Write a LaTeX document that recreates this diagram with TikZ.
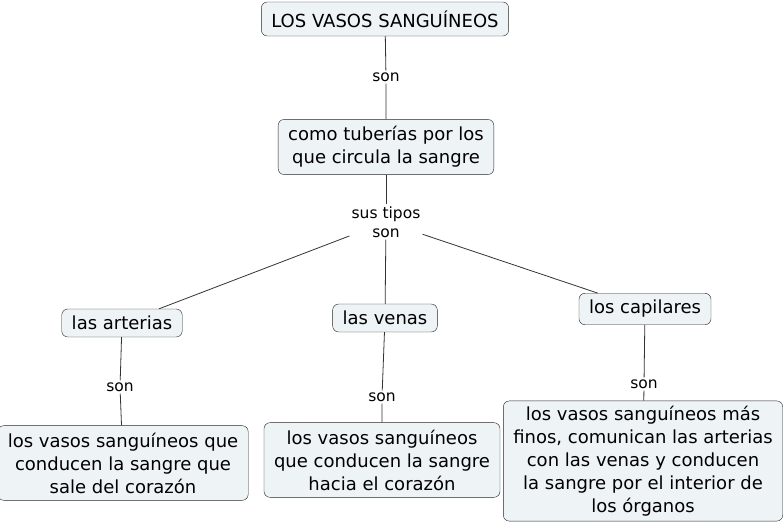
\documentclass[tikz,border=0pt]{standalone}
\usepackage{fontspec}
\setmainfont{DejaVu Sans}
\definecolor{cmapfill}{HTML}{EEF3F5}
\tikzset{
  concept/.style={draw=black!85, fill=cmapfill, rounded corners=6pt, align=center,
    inner xsep=10pt, inner ysep=7pt, font=\fontsize{18}{23}\selectfont},
  linkword/.style={align=center, inner sep=2pt, font=\fontsize{15.5}{19}\selectfont},
  conn/.style={draw=black!80, line width=0.8pt}
}
\begin{document}
\begin{tikzpicture}[x=1pt,y=-1pt]
  \useasboundingbox (0,0) rectangle (784,524);
  % concepts
  \node[concept, minimum height=34pt] (vasos) at (385,19) {LOS VASOS SANGUÍNEOS};
  \node[concept] (tuberias) at (386,147) {como tuberías por los\\que circula la sangre};
  \node[concept] (arterias) at (122,323) {las arterias};
  \node[concept] (venas) at (385,318) {las venas};
  \node[concept] (capilares) at (645,309) {los capilares};
  \node[concept] (defarterias) at (123,463) {los vasos sanguíneos que\\conducen la sangre que\\sale del corazón};
  \node[concept] (defvenas) at (382,460) {los vasos sanguíneos\\que conducen la sangre\\hacia el corazón};
  \node[concept, inner ysep=5pt] (defcapilares) at (643,461) {los vasos sanguíneos más\\finos, comunican las arterias\\con las venas y conducen\\la sangre por el interior de\\los órganos};
  % link words
  \node[linkword] (son1) at (386,77) {son};
  \node[linkword] (tipos) at (386,222) {sus tipos\\son};
  \node[linkword] (son2) at (120,387) {son};
  \node[linkword] (son3) at (382,397) {son};
  \node[linkword] (son4) at (644,384) {son};
  % connectors
  \draw[conn] (vasos) -- (son1) -- (tuberias);
  \draw[conn] (tuberias) -- (tipos);
  \draw[conn] (tipos) -- (arterias);
  \draw[conn] (tipos) -- (venas);
  \draw[conn] (tipos) -- (capilares);
  \draw[conn] (arterias) -- (son2) -- (defarterias);
  \draw[conn] (venas) -- (son3) -- (defvenas);
  \draw[conn] (capilares) -- (son4) -- (defcapilares);
\end{tikzpicture}
\end{document}
